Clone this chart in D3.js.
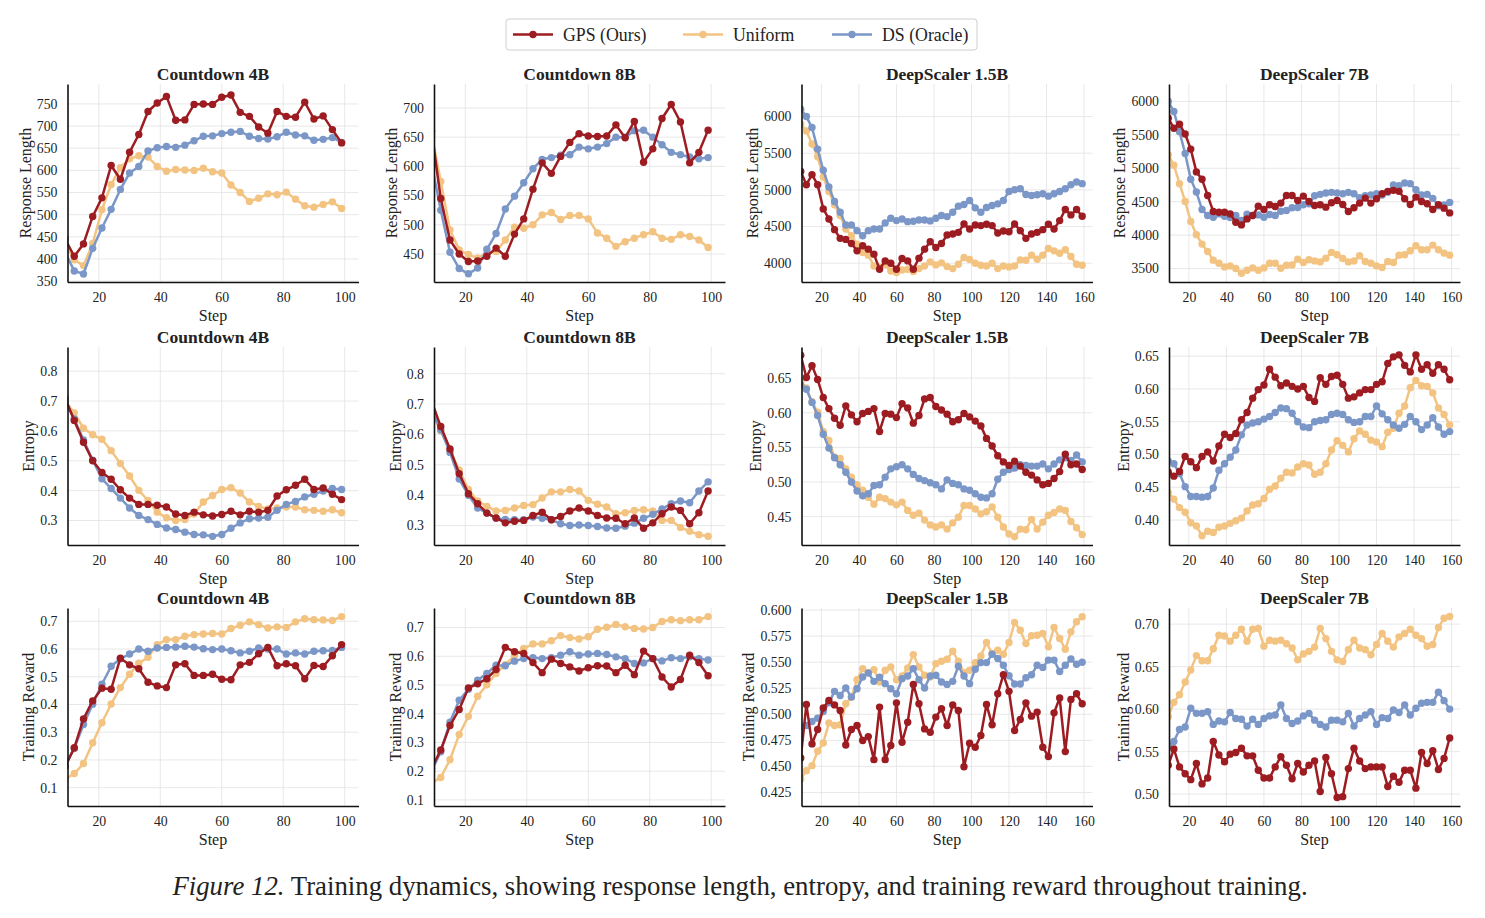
<!DOCTYPE html>
<html>
<head>
<meta charset="utf-8">
<script src="https://cdn.jsdelivr.net/npm/d3@7"></script>
<style>
  body { margin: 0; background: #fff; }
  svg text { font-family: "Liberation Serif", "Times New Roman", serif; fill: #222; }
</style>
</head>
<body>
<svg id="chart" width="1485" height="918"></svg>
<script>
// ---- steps (x values) ----
const stepsCD = [9,12,15,18,21,24,27,30,33,36,39,42,45,48,51,54,57,60,63,66,69,72,75,78,81,84,87,90,93,96,99];
const stepsDS = [9,12,15,18,21,24,27,30,33,36,39,42,45,48,51,54,57,60,63,66,69,72,75,78,81,84,87,90,93,96,99,
  102,105,108,111,114,117,120,123,126,129,132,135,138,141,144,147,150,153,156,159];

// ---- response length ----
const cd4bLenGps = [445,406,434,496,538,611,580,641,681,733,752,767,713,714,749,750,749,765,770,731,722,698,684,733,722,720,754,716,723,692,662];
const cd4bLenUni = [435,398,385,435,511,568,606,626,633,630,609,598,602,601,600,605,597,594,567,550,530,537,547,545,551,535,520,517,523,529,514];
const cd4bLenDs  = [415,373,366,424,470,512,557,594,609,644,651,654,652,657,667,677,678,683,686,688,677,672,671,676,686,680,678,668,670,674,663];

const cd8bLenGps = [660,545,474,450,437,438,446,460,446,484,510,561,606,588,617,641,656,652,651,652,671,649,677,607,630,682,706,676,606,624,662];
const cd8bLenUni = [655,574,491,457,449,443,452,454,474,496,494,500,517,521,509,516,516,510,486,477,463,471,477,483,488,477,475,483,480,474,461];
const cd8bLenDs  = [605,525,453,425,416,426,458,485,527,549,572,596,612,615,619,620,633,630,633,639,650,650,661,662,650,637,624,620,616,613,615];

const ds15LenGps = [5250,5071,5208,5071,4741,4604,4458,4339,4325,4270,4169,4238,4192,4124,3918,4032,4000,3918,4064,4032,
  3918,4069,4192,4293,4215,4270,4384,4398,4421,4535,4467,4522,4513,4531,4513,4412,4439,4430,4535,4444,
  4339,4398,4421,4458,4531,4467,4581,4732,4659,4732,4641];
const ds15LenUni = [5900,5803,5625,5451,5176,4979,4796,4650,4467,4375,4261,4146,4110,3963,3945,3977,3895,3872,3908,3918,
  3886,3927,3963,4018,3977,4005,3954,3927,3986,4078,4050,4000,3973,3963,4000,3927,3963,3950,3963,4046,
  4041,4110,4055,4110,4201,4169,4137,4183,4092,3986,3973];
const ds15LenDs  = [6100,6000,5850,5556,5268,5040,4842,4696,4522,4522,4444,4375,4444,4467,4467,4550,4613,4581,4604,4567,
  4572,4590,4590,4577,4613,4650,4636,4696,4778,4800,4856,4755,4696,4760,4787,4810,4856,4979,5002,5016,
  4938,4924,4934,4947,4915,4947,4979,5016,5071,5108,5085];

const ds7LenGps = [5750,5598,5659,5513,5287,4946,4835,4594,4353,4343,4343,4318,4193,4153,4243,4293,4434,4384,4454,4429,
  4479,4594,4594,4519,4584,4504,4444,4454,4419,4484,4519,4459,4353,4409,4479,4554,4479,4544,4619,4655,
  4670,4655,4544,4459,4569,4504,4469,4384,4454,4404,4333];
const ds7LenUni = [5200,5046,4770,4504,4203,4007,3866,3756,3626,3580,3525,3540,3500,3430,3475,3510,3475,3510,3580,3580,
  3505,3550,3555,3641,3590,3631,3615,3600,3656,3741,3706,3651,3600,3615,3691,3605,3580,3540,3515,3605,
  3590,3701,3706,3766,3841,3781,3781,3851,3781,3731,3701];
const ds7LenDs  = [6000,5849,5548,5222,4835,4645,4384,4293,4268,4318,4283,4263,4293,4218,4313,4293,4303,4268,4308,4293,
  4358,4368,4409,4414,4454,4470,4590,4610,4630,4640,4630,4620,4640,4620,4560,4590,4600,4620,4600,4640,
  4750,4740,4780,4770,4680,4600,4610,4550,4440,4450,4490];

// ---- entropy ----
const cd4bEntGps = [0.71,0.635,0.562,0.500,0.461,0.438,0.403,0.375,0.354,0.354,0.351,0.345,0.322,0.317,0.328,0.319,0.315,0.320,0.331,0.319,
  0.331,0.328,0.334,0.382,0.403,0.418,0.438,0.404,0.409,0.388,0.370];
const cd4bEntUni = [0.70,0.660,0.609,0.587,0.572,0.534,0.491,0.449,0.401,0.367,0.328,0.309,0.300,0.303,0.322,0.362,0.384,0.404,0.410,0.392,
  0.362,0.347,0.339,0.342,0.345,0.345,0.336,0.334,0.331,0.336,0.326];
const cd4bEntDs  = [0.70,0.640,0.570,0.502,0.440,0.407,0.375,0.342,0.317,0.303,0.287,0.275,0.270,0.261,0.253,0.252,0.247,0.253,0.274,0.292,
  0.306,0.308,0.311,0.334,0.354,0.364,0.379,0.388,0.399,0.407,0.404];

const cd8bEntGps = [0.71,0.626,0.552,0.471,0.405,0.372,0.341,0.325,0.309,0.314,0.317,0.333,0.344,0.319,0.330,0.348,0.358,0.348,0.333,0.325,
  0.324,0.306,0.325,0.291,0.309,0.339,0.361,0.350,0.306,0.342,0.414];
const cd8bEntUni = [0.67,0.612,0.549,0.483,0.419,0.381,0.363,0.348,0.350,0.358,0.366,0.369,0.391,0.411,0.411,0.419,0.414,0.383,0.370,0.361,
  0.339,0.342,0.350,0.352,0.348,0.317,0.317,0.294,0.281,0.270,0.265];
const cd8bEntDs  = [0.68,0.615,0.541,0.453,0.400,0.358,0.341,0.324,0.320,0.319,0.319,0.328,0.324,0.319,0.306,0.300,0.302,0.300,0.297,0.292,
  0.291,0.298,0.308,0.324,0.337,0.355,0.372,0.381,0.375,0.414,0.444];

const ds15EntGps = [0.683,0.651,0.668,0.648,0.622,0.606,0.592,0.582,0.610,0.597,0.587,0.599,0.602,0.606,0.573,0.599,0.598,0.593,0.613,0.607,
  0.585,0.596,0.620,0.622,0.609,0.604,0.598,0.587,0.590,0.599,0.594,0.588,0.581,0.563,0.552,0.538,0.529,0.524,0.530,0.523,
  0.514,0.510,0.503,0.496,0.498,0.505,0.515,0.540,0.525,0.526,0.518];
const ds15EntUni = [0.645,0.636,0.616,0.601,0.573,0.560,0.536,0.534,0.519,0.507,0.496,0.488,0.478,0.468,0.478,0.476,0.471,0.467,0.471,0.459,
  0.452,0.455,0.445,0.438,0.435,0.438,0.432,0.441,0.449,0.466,0.466,0.461,0.454,0.457,0.464,0.449,0.435,0.425,0.421,0.432,
  0.431,0.446,0.432,0.442,0.452,0.456,0.461,0.459,0.443,0.434,0.424];
const ds15EntDs  = [0.640,0.634,0.615,0.596,0.569,0.549,0.535,0.525,0.514,0.500,0.487,0.480,0.483,0.495,0.496,0.507,0.519,0.522,0.525,0.519,
  0.511,0.505,0.502,0.499,0.496,0.490,0.503,0.498,0.496,0.490,0.488,0.483,0.478,0.477,0.483,0.504,0.514,0.518,0.520,0.525,
  0.524,0.523,0.523,0.526,0.519,0.526,0.532,0.535,0.531,0.539,0.529];

const ds7EntGps = [0.473,0.467,0.474,0.497,0.489,0.480,0.497,0.504,0.490,0.513,0.531,0.526,0.532,0.553,0.564,0.586,0.599,0.606,0.630,0.618,
  0.605,0.609,0.604,0.600,0.604,0.587,0.581,0.617,0.607,0.619,0.621,0.607,0.586,0.588,0.594,0.599,0.599,0.607,0.611,0.639,
  0.649,0.652,0.636,0.626,0.652,0.630,0.637,0.624,0.637,0.630,0.614];
const ds7EntUni = [0.442,0.432,0.419,0.412,0.396,0.391,0.376,0.383,0.381,0.389,0.391,0.395,0.399,0.403,0.414,0.423,0.425,0.433,0.447,0.452,
  0.464,0.473,0.472,0.481,0.486,0.484,0.470,0.473,0.486,0.507,0.521,0.514,0.504,0.524,0.536,0.531,0.522,0.519,0.512,0.534,
  0.540,0.563,0.574,0.602,0.613,0.605,0.604,0.594,0.571,0.561,0.545];
const ds7EntDs  = [0.490,0.486,0.471,0.451,0.436,0.436,0.435,0.436,0.449,0.476,0.486,0.496,0.507,0.530,0.545,0.548,0.550,0.554,0.558,0.564,
  0.571,0.570,0.563,0.550,0.542,0.541,0.550,0.552,0.553,0.561,0.563,0.561,0.553,0.549,0.550,0.558,0.558,0.574,0.562,0.553,
  0.545,0.540,0.546,0.558,0.550,0.538,0.545,0.556,0.542,0.531,0.535];

// ---- training reward ----
const cd4bRewGps = [0.175,0.244,0.348,0.413,0.459,0.455,0.567,0.543,0.529,0.480,0.467,0.461,0.543,0.547,0.505,0.505,0.509,0.491,0.489,0.543,
  0.552,0.583,0.606,0.540,0.547,0.540,0.493,0.541,0.537,0.576,0.616];
const cd4bRewUni = [0.13,0.151,0.187,0.262,0.334,0.402,0.461,0.509,0.549,0.570,0.616,0.634,0.634,0.646,0.652,0.654,0.656,0.654,0.674,0.686,
  0.698,0.688,0.676,0.680,0.678,0.698,0.709,0.706,0.705,0.703,0.717];
const cd4bRewDs  = [0.18,0.241,0.328,0.401,0.473,0.538,0.565,0.582,0.600,0.592,0.604,0.606,0.607,0.610,0.607,0.601,0.598,0.600,0.594,0.586,
  0.592,0.604,0.600,0.600,0.582,0.586,0.582,0.592,0.594,0.595,0.606];

const cd8bRewGps = [0.21,0.274,0.359,0.415,0.490,0.504,0.522,0.554,0.631,0.616,0.610,0.578,0.543,0.590,0.575,0.563,0.549,0.560,0.567,0.566,
  0.543,0.569,0.536,0.618,0.592,0.528,0.493,0.519,0.604,0.578,0.532];
const cd8bRewUni = [0.16,0.178,0.240,0.328,0.391,0.461,0.501,0.540,0.571,0.602,0.627,0.643,0.643,0.654,0.672,0.665,0.660,0.668,0.694,0.701,
  0.711,0.703,0.697,0.695,0.700,0.721,0.727,0.724,0.727,0.727,0.738];
const cd8bRewDs  = [0.20,0.268,0.371,0.447,0.485,0.517,0.540,0.569,0.567,0.583,0.592,0.595,0.592,0.595,0.604,0.616,0.604,0.608,0.610,0.606,
  0.598,0.592,0.575,0.577,0.592,0.584,0.595,0.592,0.598,0.592,0.587];

const ds15RewGps = [0.458,0.5095,0.4716,0.4854,0.506,0.5133,0.509,0.5037,0.4706,0.4854,0.4892,0.4748,0.4786,0.4565,0.5069,0.4565,0.470,0.511,0.4732,0.4924,
  0.5287,0.5101,0.486,0.4828,0.4973,0.5053,0.4892,0.509,0.5037,0.4497,0.4722,0.4684,0.4796,0.5095,0.4899,0.5197,0.538,0.522,0.4844,0.495,
  0.511,0.4982,0.5021,0.4684,0.4594,0.5014,0.5156,0.4642,0.5143,0.5197,0.5101];
const ds15RewUni = [0.4378,0.4459,0.4507,0.4645,0.4725,0.4918,0.4892,0.4899,0.5101,0.5165,0.5332,0.5438,0.540,0.5429,0.531,0.5422,0.5454,0.5332,0.5368,0.5445,
  0.5573,0.5454,0.5374,0.5358,0.5486,0.5509,0.5528,0.5605,0.5509,0.540,0.5422,0.5496,0.556,0.5689,0.5583,0.5615,0.5576,0.5689,0.5881,0.5807,
  0.5679,0.5753,0.5759,0.5775,0.5647,0.5833,0.5727,0.5624,0.5791,0.5888,0.5936];
const ds15RewDs  = [0.4886,0.4892,0.4931,0.4963,0.5027,0.511,0.522,0.5181,0.5252,0.5165,0.5245,0.5358,0.5396,0.5316,0.5355,0.5294,0.5245,0.5197,0.5342,0.5368,
  0.5438,0.5332,0.5252,0.5368,0.5374,0.531,0.5287,0.5316,0.5461,0.5368,0.5294,0.5432,0.5496,0.5496,0.5576,0.5535,0.547,0.537,0.529,0.529,
  0.535,0.538,0.547,0.545,0.552,0.552,0.541,0.547,0.553,0.548,0.550];

const ds7RewGps = [0.534,0.553,0.532,0.524,0.517,0.536,0.512,0.519,0.562,0.546,0.538,0.547,0.549,0.554,0.545,0.545,0.528,0.519,0.519,0.532,
  0.544,0.534,0.518,0.536,0.526,0.534,0.539,0.503,0.543,0.524,0.496,0.497,0.530,0.554,0.539,0.530,0.532,0.532,0.532,0.509,
  0.521,0.514,0.528,0.528,0.507,0.549,0.536,0.551,0.529,0.542,0.566];
const ds7RewUni = [0.591,0.608,0.617,0.632,0.646,0.663,0.657,0.657,0.671,0.687,0.686,0.680,0.687,0.694,0.680,0.694,0.695,0.674,0.681,0.680,
  0.681,0.677,0.672,0.658,0.665,0.668,0.673,0.695,0.683,0.668,0.658,0.656,0.670,0.681,0.672,0.670,0.664,0.676,0.689,0.680,
  0.673,0.685,0.689,0.694,0.687,0.683,0.674,0.676,0.696,0.707,0.709];
const ds7RewDs  = [0.557,0.562,0.576,0.579,0.601,0.595,0.595,0.597,0.582,0.586,0.585,0.596,0.589,0.588,0.580,0.588,0.582,0.589,0.592,0.593,
  0.605,0.589,0.583,0.586,0.592,0.595,0.587,0.582,0.579,0.587,0.587,0.585,0.595,0.580,0.589,0.593,0.597,0.582,0.590,0.589,
  0.599,0.596,0.605,0.593,0.601,0.607,0.608,0.608,0.620,0.610,0.600];

// ---- tick labels ----
const xTicksCD = [20,40,60,80,100];
const xTicksDS = [20,40,60,80,100,120,140,160];
const seriesNames = ["GPS (Ours)", "Uniform", "DS (Oracle)"];
const titles = ["Countdown 4B", "Countdown 8B", "DeepScaler 1.5B", "DeepScaler 7B"];
const yLabels = ["Response Length", "Entropy", "Training Reward"];

// panel table (built from the arrays above)
const panels = [
  {steps: stepsCD, s: [cd4bLenGps, cd4bLenUni, cd4bLenDs], yLim: [348, 795], yTicks: [350,400,450,500,550,600,650,700,750], fmt: "d"},
  {steps: stepsCD, s: [cd8bLenGps, cd8bLenUni, cd8bLenDs], yLim: [402, 741], yTicks: [450,500,550,600,650,700], fmt: "d"},
  {steps: stepsDS, s: [ds15LenGps, ds15LenUni, ds15LenDs], yLim: [3744, 6444], yTicks: [4000,4500,5000,5500,6000], fmt: "d"},
  {steps: stepsDS, s: [ds7LenGps, ds7LenUni, ds7LenDs], yLim: [3299, 6261], yTicks: [3500,4000,4500,5000,5500,6000], fmt: "d"},
  {steps: stepsCD, s: [cd4bEntGps, cd4bEntUni, cd4bEntDs], yLim: [0.218, 0.881], yTicks: [0.3,0.4,0.5,0.6,0.7,0.8], fmt: ".1f"},
  {steps: stepsCD, s: [cd8bEntGps, cd8bEntUni, cd8bEntDs], yLim: [0.236, 0.888], yTicks: [0.3,0.4,0.5,0.6,0.7,0.8], fmt: ".1f"},
  {steps: stepsDS, s: [ds15EntGps, ds15EntUni, ds15EntDs], yLim: [0.409, 0.695], yTicks: [0.45,0.50,0.55,0.60,0.65], fmt: ".2f"},
  {steps: stepsDS, s: [ds7EntGps, ds7EntUni, ds7EntDs], yLim: [0.362, 0.664], yTicks: [0.40,0.45,0.50,0.55,0.60,0.65], fmt: ".2f"},
  {steps: stepsCD, s: [cd4bRewGps, cd4bRewUni, cd4bRewDs], yLim: [0.034, 0.748], yTicks: [0.1,0.2,0.3,0.4,0.5,0.6,0.7], fmt: ".1f"},
  {steps: stepsCD, s: [cd8bRewGps, cd8bRewUni, cd8bRewDs], yLim: [0.079, 0.768], yTicks: [0.1,0.2,0.3,0.4,0.5,0.6,0.7], fmt: ".1f"},
  {steps: stepsDS, s: [ds15RewGps, ds15RewUni, ds15RewDs], yLim: [0.412, 0.602], yTicks: [0.425,0.450,0.475,0.500,0.525,0.550,0.575,0.600], fmt: ".3f"},
  {steps: stepsDS, s: [ds7RewGps, ds7RewUni, ds7RewDs], yLim: [0.486, 0.719], yTicks: [0.50,0.55,0.60,0.65,0.70], fmt: ".2f"}
];

const colors = ["#9c1c21", "#f3c382", "#7b97c8"];
const drawOrder = [1, 2, 0];  // uniform, ds, gps on top

const svg = d3.select("#chart");
const font = '"Liberation Serif", "Times New Roman", serif';

const colLeft = [67.5, 434, 801.5, 1169];
const rowTop = [84, 347, 608];
const W = 291, H = 198;

panels.forEach((p, i) => {
  const col = i % 4, row = Math.floor(i / 4);
  const isCD = col < 2;
  const g = svg.append("g").attr("transform", `translate(${colLeft[col]},${rowTop[row]})`);

  const x = d3.scaleLinear().domain(isCD ? [9.8, 104.5] : [9.4, 164.5]).range([0, W]);
  const y = d3.scaleLinear().domain(p.yLim).range([H, 0]);
  const xTicks = isCD ? xTicksCD : xTicksDS;

  // grid
  g.append("g").selectAll("line").data(xTicks).join("line")
    .attr("x1", d => x(d)).attr("x2", d => x(d)).attr("y1", 0).attr("y2", H)
    .attr("stroke", "#e2e2e2").attr("stroke-width", 0.8);
  g.append("g").selectAll("line").data(p.yTicks).join("line")
    .attr("x1", 0).attr("x2", W).attr("y1", d => y(d)).attr("y2", d => y(d))
    .attr("stroke", "#e2e2e2").attr("stroke-width", 0.8);

  // clip to plot area
  const clipId = "clip" + i;
  g.append("clipPath").attr("id", clipId).append("rect").attr("width", W).attr("height", H);
  const plot = g.append("g").attr("clip-path", `url(#${clipId})`);

  const line = d3.line().x(d => x(d[0])).y(d => y(d[1]));
  drawOrder.forEach(k => {
    const pts = p.steps.map((st, j) => [st, p.s[k][j]]);
    plot.append("path").datum(pts)
      .attr("d", line).attr("fill", "none")
      .attr("stroke", colors[k]).attr("stroke-width", 2.5)
      .attr("stroke-linejoin", "round");
    plot.append("g").selectAll("circle").data(pts).join("circle")
      .attr("cx", d => x(d[0])).attr("cy", d => y(d[1])).attr("r", 3.7)
      .attr("fill", colors[k]);
  });

  // axes
  const yAxis = g.append("g")
    .call(d3.axisLeft(y).tickValues(p.yTicks).tickSize(0).tickSizeOuter(0).tickPadding(10)
      .tickFormat(d3.format(p.fmt)));
  const xAxis = g.append("g").attr("transform", `translate(0,${H})`)
    .call(d3.axisBottom(x).tickValues(xTicks).tickSize(0).tickSizeOuter(0).tickPadding(10));
  [xAxis, yAxis].forEach(a => {
    a.attr("font-family", font).attr("font-size", 13.8);
    a.select(".domain").attr("stroke", "#111").attr("stroke-width", 1.6);
    a.selectAll("text").attr("fill", "#222");
  });

  // title
  g.append("text").attr("x", W / 2).attr("y", -4)
    .attr("text-anchor", "middle").attr("font-weight", "bold").attr("font-size", 17.5)
    .text(titles[col]);

  // x label
  g.append("text").attr("x", W / 2).attr("y", H + 39)
    .attr("text-anchor", "middle").attr("font-size", 16).text("Step");

  // y label placed left of tick labels
  let minX = 0;
  yAxis.selectAll(".tick text").each(function () {
    minX = Math.min(minX, this.getBBox().x);
  });
  g.append("text")
    .attr("transform", `translate(${minX - 6},${H / 2}) rotate(-90)`)
    .attr("text-anchor", "middle").attr("font-size", 16)
    .text(yLabels[row]);
});

// legend
const legend = svg.append("g");
legend.append("rect").attr("x", 506).attr("y", 19).attr("width", 471).attr("height", 31)
  .attr("rx", 3).attr("fill", "#fff").attr("stroke", "#cfcfcf").attr("stroke-width", 1);
const legX = [513, 683, 832];
seriesNames.forEach((name, k) => {
  const lg = legend.append("g").attr("transform", `translate(${legX[k]},34.5)`);
  lg.append("line").attr("x1", 0).attr("x2", 40).attr("stroke", colors[k]).attr("stroke-width", 2.5);
  lg.append("circle").attr("cx", 20).attr("r", 3.7).attr("fill", colors[k]);
  lg.append("text").attr("x", 50).attr("y", 6).attr("font-size", 17.8).text(name);
});

// caption
const cap = svg.append("text").attr("x", 740).attr("y", 895)
  .attr("text-anchor", "middle").attr("font-size", 26.8);
cap.append("tspan").attr("font-style", "italic").text("Figure 12.");
cap.append("tspan").text(" Training dynamics, showing response length, entropy, and training reward throughout training.");
</script>
</body>
</html>
